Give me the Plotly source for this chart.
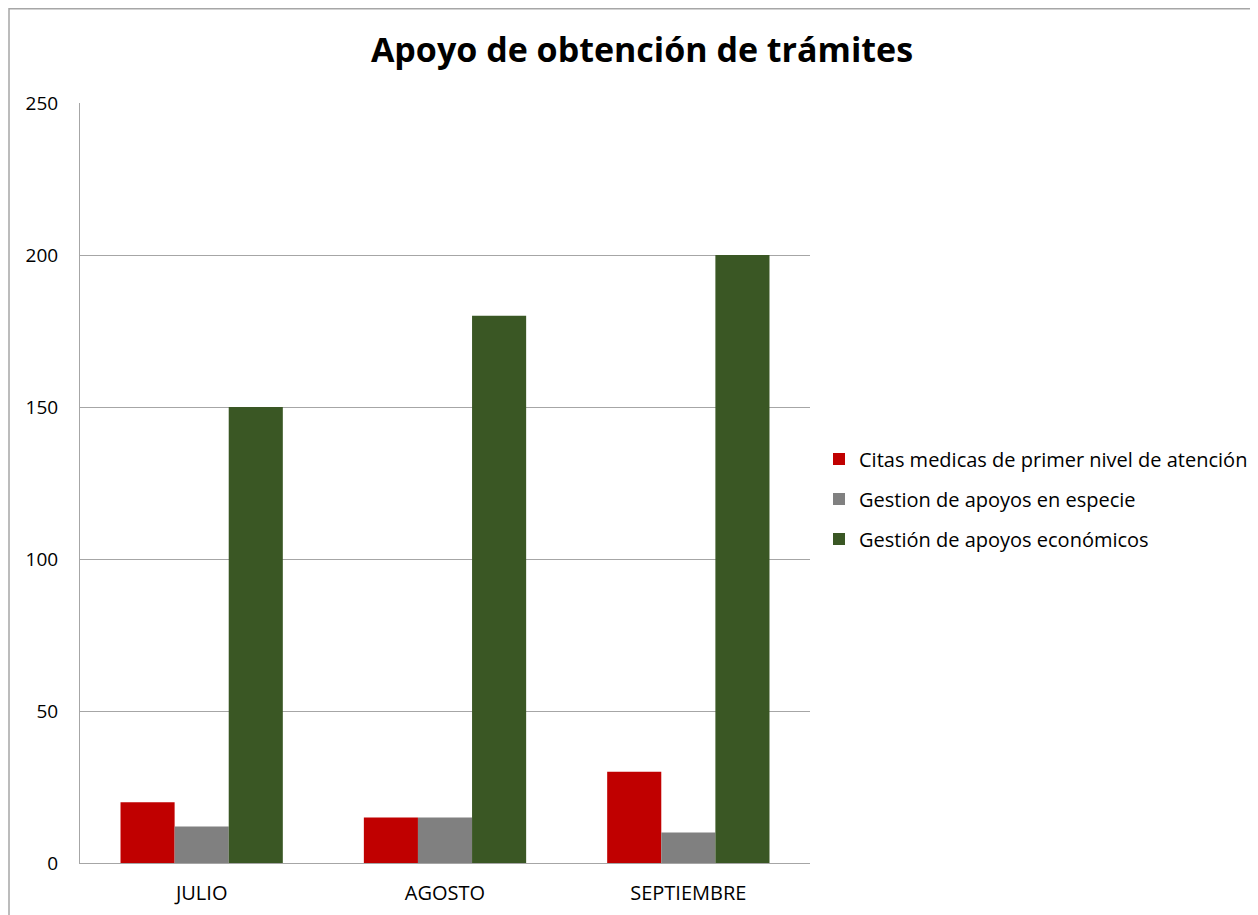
import plotly.graph_objects as go

categories = ["JULIO", "AGOSTO", "SEPTIEMBRE"]
series_names = [
    "Citas medicas de primer nivel de atención",
    "Gestion de apoyos en especie",
    "Gestión de apoyos económicos",
]
citas = [20, 15, 30]
especie = [12, 15, 10]
economicos = [150, 180, 200]
colors = ["#C00000", "#808080", "#3A5724"]
y_ticks = [0, 50, 100, 150, 200, 250]

FONT = "Open Sans"
fig = go.Figure()
for name, vals, col in zip(series_names, [citas, especie, economicos], colors):
    fig.add_trace(go.Bar(x=categories, y=vals, name=name, marker_color=col,
                         marker_line_width=0, legendgroup=name))

OFF = 8
W, H = 1258, 915
L, R, T, B = 80 - OFF, 810 - OFF, 103 - OFF, 863 - OFF
fig.update_layout(
    width=W, height=H,
    margin=dict(l=L, r=W - R, t=T, b=H - B, autoexpand=False),
    paper_bgcolor="white", plot_bgcolor="white",
    barmode="group", bargap=0.333, bargroupgap=0,
    title=dict(text="<b>Apoyo de obtención de trámites</b>", x=(642 - OFF) / W, xanchor="center",
               y=1 - (50 - OFF) / H, yanchor="middle",
               font=dict(family=FONT, size=34, color="black")),
    font=dict(family=FONT, size=20, color="black"),
    showlegend=True,
    legend=dict(x=(819 - OFF - L) / (R - L), xanchor="left",
                y=(B - (499 - OFF)) / (B - T), yanchor="middle",
                font=dict(family=FONT, size=20, color="black"),
                tracegroupgap=11, itemwidth=30, bgcolor="rgba(0,0,0,0)"),
    xaxis=dict(showline=True, linecolor="#A6A6A6", linewidth=1, ticks="",
               tickfont=dict(family=FONT, size=20), showgrid=False, ticklabelstandoff=12),
    yaxis=dict(range=[0, 250], tickvals=y_ticks, showgrid=True, gridcolor="#A6A6A6",
               gridwidth=1, showline=True, linecolor="#A6A6A6", linewidth=1, ticks="",
               zeroline=False, tickfont=dict(family=FONT, size=19), ticklabelstandoff=17),
    shapes=[dict(type="rect", xref="paper", yref="paper",
                 x0=(9 - OFF - L) / (R - L), x1=(1275 - L) / (R - L),
                 y0=(B - 935) / (B - T), y1=(B - 0.75) / (B - T),
                 line=dict(color="#A6A6A6", width=1.5), fillcolor="rgba(0,0,0,0)", layer="below")],
)
fig.write_html("out.html")
